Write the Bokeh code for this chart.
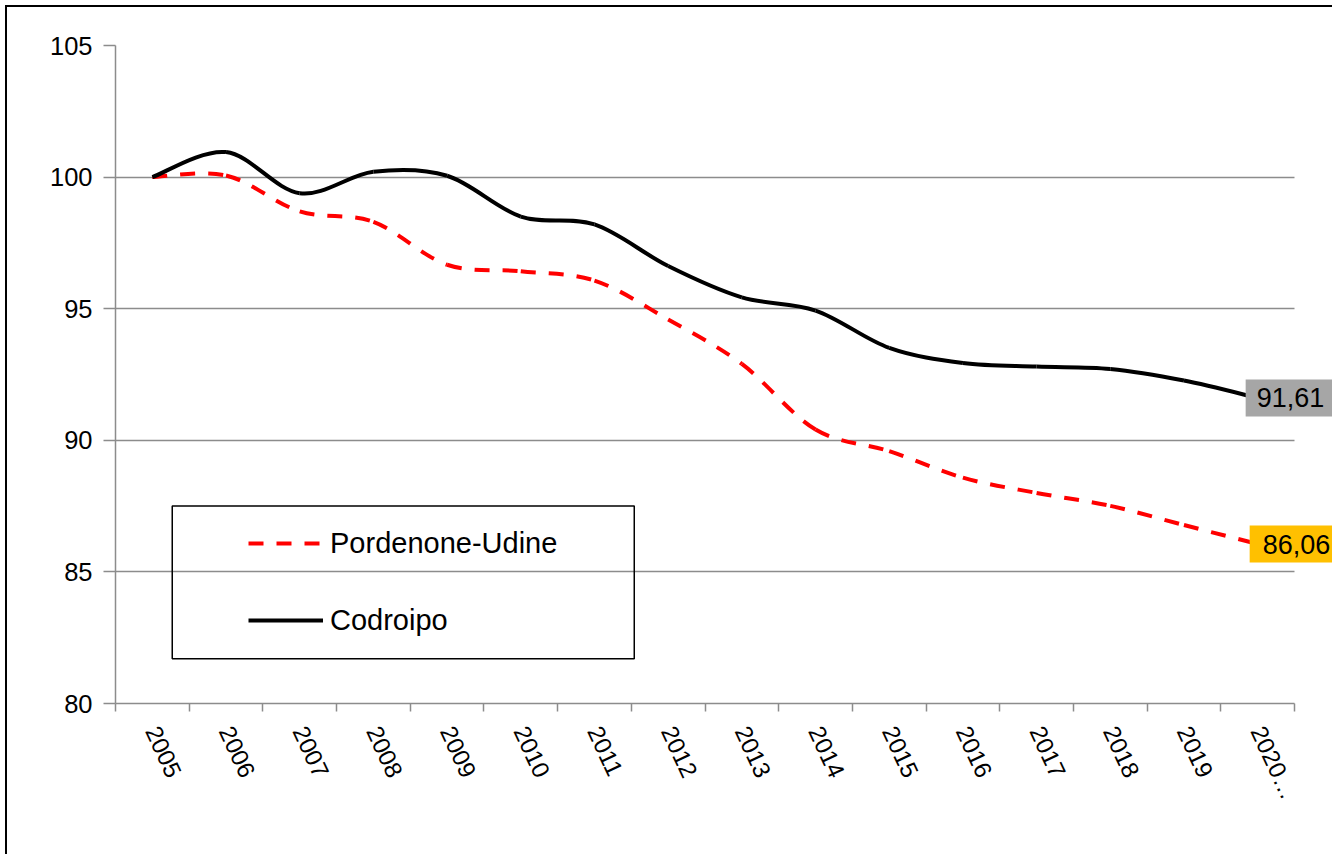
import numpy as np
from bokeh.plotting import figure
from bokeh.models import (Range1d, FixedTicker, CustomJSTickFormatter, Label,
                          Legend, LegendItem, BoxAnnotation, Grid)
from bokeh.embed import file_html
from bokeh.resources import INLINE

# ---- data ----
years = ["2005", "2006", "2007", "2008", "2009", "2010", "2011", "2012",
         "2013", "2014", "2015", "2016", "2017", "2018", "2019", "2020…"]
pordenone_udine = [100.0, 100.06, 98.7, 98.3, 96.67, 96.42, 96.07, 94.59,
                   92.9, 90.41, 89.59, 88.58, 88.0, 87.51, 86.78, 86.06]
codroipo = [100.0, 100.95, 99.39, 100.2, 100.05, 98.5, 98.2, 96.62,
            95.43, 94.93, 93.51, 92.94, 92.8, 92.71, 92.27, 91.61]
y_ticks = [80, 85, 90, 95, 100, 105]

FONT = "Liberation Sans"
GRID = "#8c8c8c"

n = len(years)
x_end = n * 1219 / 1179  # frame runs to the canvas edge, axis stops at n

p = figure(width=1327, height=849, output_backend="svg", toolbar_location=None,
           x_range=Range1d(0, x_end), y_range=Range1d(80, 105),
           min_border_left=108, min_border_right=0,
           min_border_top=38, min_border_bottom=153)
p.styles = {"margin-left": "5px", "margin-top": "5px",
            "border-left": "2px solid black", "border-top": "2px solid black"}
p.outline_line_color = None
p.background_fill_color = "white"
p.border_fill_color = "white"

# grid
p.xgrid.visible = False
p.ygrid.ticker = FixedTicker(ticks=y_ticks)
p.ygrid.grid_line_color = GRID
p.ygrid.grid_line_width = 1.5
if "cross_bounds" in Grid.properties():
    p.ygrid.cross_bounds = (0, n)
else:
    p.ygrid.visible = False
    p.segment(x0=[0] * len(y_ticks), x1=[n] * len(y_ticks), y0=y_ticks, y1=y_ticks,
              line_color=GRID, line_width=1.5, level="underlay")

# y axis
p.yaxis.ticker = FixedTicker(ticks=y_ticks)
p.yaxis.axis_line_color = GRID
p.yaxis.axis_line_width = 1.5
p.yaxis.major_tick_line_color = GRID
p.yaxis.major_tick_line_width = 1.5
p.yaxis.major_tick_out = 12
p.yaxis.major_tick_in = 0
p.yaxis.minor_tick_line_color = None
p.yaxis.major_label_text_font = FONT
p.yaxis.major_label_text_font_size = "25.5px"
p.yaxis.major_label_text_color = "black"
p.yaxis.major_label_standoff = 11

# x axis: labels at category centres, tick marks between categories
centers = [i + 0.5 for i in range(n)]
edges = [i for i in range(n + 1)]
p.xaxis.bounds = (0, n)
p.xaxis.ticker = FixedTicker(ticks=centers, minor_ticks=edges)
p.xaxis.formatter = CustomJSTickFormatter(args=dict(labels=years),
                                          code="return labels[Math.round(tick - 0.5)];")
p.xaxis.axis_line_color = GRID
p.xaxis.axis_line_width = 1.5
p.xaxis.major_tick_line_color = None
p.xaxis.major_tick_out = 0
p.xaxis.major_tick_in = 0
p.xaxis.minor_tick_line_color = GRID
p.xaxis.minor_tick_line_width = 1.5
p.xaxis.minor_tick_out = 8
p.xaxis.minor_tick_in = 0
p.xaxis.major_label_orientation = -1.134
p.xaxis.major_label_text_font = FONT
p.xaxis.major_label_text_font_size = "24px"
p.xaxis.major_label_text_color = "black"
p.xaxis.major_label_standoff = 16


def smooth(vals):
    x = np.array(centers, dtype=float)
    y = np.array(vals, dtype=float)
    xp = np.concatenate([[x[0]], x, [x[-1]]])
    yp = np.concatenate([[y[0]], y, [y[-1]]])
    x0, x1 = x[:-1], x[1:]
    y0, y1 = y[:-1], y[1:]
    cx0 = x0 + (x1 - xp[:-3]) / 6.0
    cy0 = y0 + (y1 - yp[:-3]) / 6.0
    cx1 = x1 - (xp[3:] - x0) / 6.0
    cy1 = y1 - (yp[3:] - y0) / 6.0
    return dict(x0=x0, y0=y0, x1=x1, y1=y1, cx0=cx0, cy0=cy0, cx1=cx1, cy1=cy1)


p.bezier(**smooth(pordenone_udine), line_color="#ff0000", line_width=4,
         line_dash="15 13")
p.bezier(**smooth(codroipo), line_color="black", line_width=4)

# legend frame (transparent fill, grid shows through as in the original)
p.add_layout(BoxAnnotation(left=0.77, right=7.04, top=87.5, bottom=81.7,
                           fill_alpha=0, line_color="black", line_alpha=1,
                           line_width=1.5))

# one-point renderers that only supply the legend swatches
r_p = p.line(x=[centers[0]], y=[pordenone_udine[0]], line_color="#ff0000",
             line_width=4, line_dash="15 13")
r_c = p.line(x=[centers[0]], y=[codroipo[0]], line_color="black", line_width=4)
legend = Legend(items=[LegendItem(label="Pordenone-Udine", renderers=[r_p]),
                       LegendItem(label="Codroipo", renderers=[r_c])],
                location=(133, 65), padding=0, margin=0, spacing=41,
                glyph_width=75, glyph_height=36, label_height=36,
                label_standoff=7, label_text_font=FONT,
                label_text_font_size="29px", label_text_color="black",
                border_line_alpha=0, background_fill_alpha=0)
p.add_layout(legend)

# end-of-series data labels
p.add_layout(Label(x=centers[-1], y=codroipo[-1],
                   text=f"{codroipo[-1]:.2f}".replace(".", ","),
                   x_offset=-12, text_align="left", text_baseline="middle",
                   text_font=FONT, text_font_size="27px", text_color="black",
                   background_fill_color="#a6a6a6", padding=(11, 9)))
p.add_layout(Label(x=centers[-1], y=pordenone_udine[-1],
                   text=f"{pordenone_udine[-1]:.2f}".replace(".", ","),
                   x_offset=-8, text_align="left", text_baseline="middle",
                   text_font=FONT, text_font_size="27px", text_color="black",
                   background_fill_color="#ffc000", padding=(13, 9)))

open("out.html", "w").write(file_html(p, INLINE))
